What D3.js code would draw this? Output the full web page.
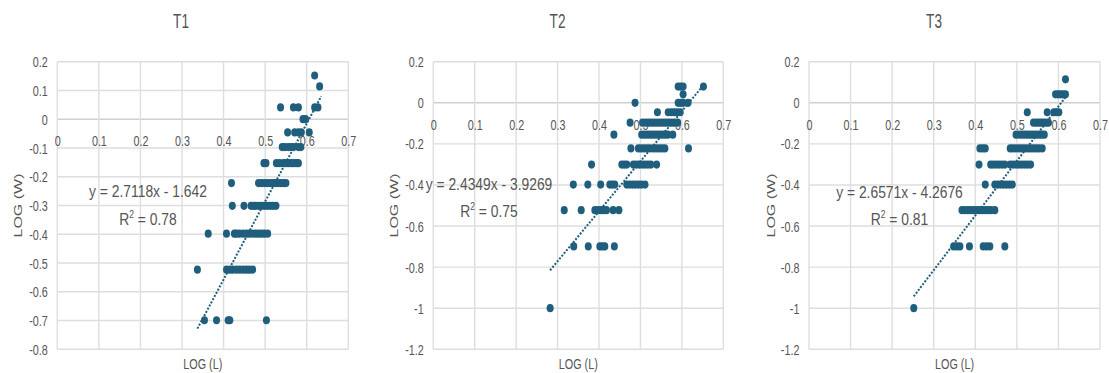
<!DOCTYPE html>
<html>
<head>
<meta charset="utf-8">
<script src="https://cdn.jsdelivr.net/npm/d3@7"></script>
<style>
  html, body { margin: 0; padding: 0; background: #ffffff; }
  svg { display: block; }
  text { font-family: "Liberation Sans", Arial, sans-serif; fill: #555555; }
</style>
</head>
<body>
<svg id="chart" width="1109" height="373"></svg>
<script>
// ---------------- DATA ----------------
const panelTitles = ["T1", "T2", "T3"];
const xTitle = "LOG (L)";
const yTitle = "LOG (W)";

const xTicks = [0, 0.1, 0.2, 0.3, 0.4, 0.5, 0.6, 0.7];
const t1YTicks = [0.2, 0.1, 0, -0.1, -0.2, -0.3, -0.4, -0.5, -0.6, -0.7, -0.8];
const t23YTicks = [0.2, 0, -0.2, -0.4, -0.6, -0.8, -1, -1.2];

// rows: [LOG(W), [LOG(L) values]]
const t1Rows = [
  [0.152, [0.619]],
  [0.114, [0.631]],
  [0.041, [0.537, 0.568, 0.580, 0.619, 0.627]],
  [0, [0.591, 0.597]],
  [-0.046, [0.554, 0.571, 0.580, 0.587, 0.606]],
  [-0.097, [0.541, 0.548, 0.556, 0.563, 0.568, 0.580, 0.586]],
  [-0.153, [0.497, 0.502, 0.527, 0.535, 0.544, 0.550, 0.556, 0.563, 0.568, 0.575, 0.580]],
  [-0.222, [0.419, 0.484, 0.491, 0.498, 0.505, 0.512, 0.519, 0.525, 0.531, 0.538, 0.544, 0.550]],
  [-0.301, [0.421, 0.449, 0.466, 0.472, 0.477, 0.484, 0.491, 0.498, 0.505, 0.512, 0.519, 0.526]],
  [-0.398, [0.363, 0.407, 0.426, 0.431, 0.438, 0.447, 0.455, 0.462, 0.470, 0.477, 0.484, 0.491, 0.498, 0.506]],
  [-0.523, [0.337, 0.407, 0.415, 0.422, 0.431, 0.439, 0.447, 0.455, 0.462, 0.470]],
  [-0.699, [0.354, 0.383, 0.411, 0.415, 0.503]]
];
const t2Rows = [
  [0.079, [0.591, 0.597, 0.603, 0.652]],
  [0.041, [0.603]],
  [0, [0.487, 0.591, 0.597, 0.603, 0.615]],
  [-0.046, [0.541, 0.567, 0.575, 0.582, 0.589, 0.596]],
  [-0.097, [0.475, 0.505, 0.512, 0.519, 0.526, 0.533, 0.540, 0.547, 0.554, 0.561, 0.568, 0.575, 0.582, 0.590]],
  [-0.155, [0.436, 0.503, 0.510, 0.517, 0.524, 0.531, 0.538, 0.545, 0.552, 0.559, 0.566, 0.578]],
  [-0.222, [0.477, 0.495, 0.502, 0.509, 0.516, 0.523, 0.531, 0.538, 0.545, 0.552, 0.559, 0.616]],
  [-0.301, [0.382, 0.455, 0.461, 0.467, 0.483, 0.490, 0.497, 0.504, 0.511, 0.518, 0.525, 0.539]],
  [-0.398, [0.338, 0.373, 0.404, 0.426, 0.432, 0.438, 0.467, 0.474, 0.481, 0.488, 0.495, 0.502, 0.511]],
  [-0.523, [0.316, 0.357, 0.390, 0.397, 0.404, 0.411, 0.418, 0.434, 0.448]],
  [-0.699, [0.339, 0.374, 0.402, 0.408, 0.414, 0.437]],
  [-1, [0.282]]
];
const t3Rows = [
  [0.114, [0.617]],
  [0.041, [0.593, 0.599, 0.605, 0.611, 0.617]],
  [-0.046, [0.525, 0.573, 0.589, 0.595, 0.601]],
  [-0.097, [0.540, 0.546, 0.552, 0.558, 0.564, 0.570, 0.576]],
  [-0.155, [0.498, 0.505, 0.512, 0.519, 0.526, 0.533, 0.540, 0.547, 0.554, 0.560, 0.566]],
  [-0.222, [0.411, 0.418, 0.424, 0.484, 0.491, 0.498, 0.505, 0.512, 0.519, 0.526, 0.533, 0.540, 0.547, 0.553, 0.561]],
  [-0.301, [0.409, 0.437, 0.443, 0.450, 0.457, 0.464, 0.471, 0.484, 0.491, 0.498, 0.505, 0.512, 0.519, 0.526, 0.533]],
  [-0.398, [0.424, 0.447, 0.454, 0.461, 0.468, 0.475, 0.482, 0.489]],
  [-0.523, [0.368, 0.375, 0.382, 0.389, 0.396, 0.403, 0.410, 0.417, 0.424, 0.431, 0.438, 0.447]],
  [-0.699, [0.348, 0.356, 0.363, 0.386, 0.419, 0.427, 0.435, 0.471]],
  [-1, [0.252]]
];

// trendlines as drawn: [slope, intercept, xStart, xEnd]
const t1Trend = [2.7118, -1.642, 0.337, 0.635];
const t2Trend = [2.4349, -1.502, 0.282, 0.652];
const t3Trend = [2.6571, -1.612, 0.252, 0.617];

const equations = ["y = 2.7118x - 1.642", "y = 2.4349x - 3.9269", "y = 2.6571x - 4.2676"];
const r2Values = ["0.78", "0.75", "0.81"];

// ---------------- LAYOUT ----------------
const markColor = "#1f5e7c";
const gridColor = "#dedede";
const panels = [
  { rows: t1Rows, trend: t1Trend, yTicks: t1YTicks, yDomain: [-0.8, 0.2],
    left: 57.3, right: 348.3, titleX: 181, yTitleX: 21.5,
    eqX: 148, eqY: 196.7, r2Y: 225 },
  { rows: t2Rows, trend: t2Trend, yTicks: t23YTicks, yDomain: [-1.2, 0.2],
    left: 433.3, right: 723.3, titleX: 557.5, yTitleX: 398,
    eqX: 489, eqY: 190, r2Y: 216.7 },
  { rows: t3Rows, trend: t3Trend, yTicks: t23YTicks, yDomain: [-1.2, 0.2],
    left: 809, right: 1100, titleX: 934, yTitleX: 775,
    eqX: 899.5, eqY: 198, r2Y: 225 }
];
const plotTop = 61.7, plotBottom = 349.3;

const svg = d3.select("#chart");
const fmt = d => String(+d.toFixed(2));

panels.forEach((p, i) => {
  const g = svg.append("g");
  const x = d3.scaleLinear().domain([0, 0.7]).range([p.left, p.right]);
  const y = d3.scaleLinear().domain(p.yDomain).range([plotBottom, plotTop]);

  // gridlines
  g.append("g").selectAll("line").data(p.yTicks).join("line")
    .attr("x1", p.left).attr("x2", p.right)
    .attr("y1", d => y(d)).attr("y2", d => y(d))
    .attr("stroke", d => d === 0 ? "#d0d0d0" : gridColor).attr("stroke-width", 1.4);
  g.append("g").selectAll("line").data(xTicks).join("line")
    .attr("x1", d => x(d)).attr("x2", d => x(d))
    .attr("y1", plotTop).attr("y2", plotBottom)
    .attr("stroke", gridColor).attr("stroke-width", 1.4);

  // y axis labels
  g.append("g").attr("transform", `translate(${p.left},0)`)
    .call(d3.axisLeft(y).tickValues(p.yTicks).tickSize(0).tickFormat(fmt))
    .call(a => a.select(".domain").remove())
    .call(a => a.selectAll("text")
      .attr("x", null).attr("dy", "0.36em")
      .attr("transform", "translate(-9.6,0) scale(0.77,1)")
      .attr("text-anchor", "end")
      .style("font-size", "14px").style("fill", "#555555")
      .style("font-family", '"Liberation Sans", Arial, sans-serif'));

  // x axis labels (axis crosses at y = 0)
  g.append("g").attr("transform", `translate(0,${y(0)})`)
    .call(d3.axisBottom(x).tickValues(xTicks).tickSize(0).tickFormat(fmt))
    .call(a => a.select(".domain").remove())
    .call(a => a.selectAll("text")
      .attr("y", null).attr("dy", null)
      .attr("transform", "translate(0,27.2) scale(0.77,1)")
      .attr("text-anchor", "middle")
      .style("font-size", "14px").style("fill", "#555555")
      .style("font-family", '"Liberation Sans", Arial, sans-serif'));

  // points
  const pts = p.rows.flatMap(([wy, xs]) => xs.map(lx => [lx, wy]));
  g.append("g").selectAll("ellipse").data(pts).join("ellipse")
    .attr("cx", d => x(d[0])).attr("cy", d => y(d[1]))
    .attr("rx", 3.5).attr("ry", 4.1)
    .attr("fill", markColor);

  // trendline
  const [m, b, x0, x1] = p.trend;
  g.append("line")
    .attr("x1", x(x0)).attr("y1", y(m * x0 + b))
    .attr("x2", x(x1)).attr("y2", y(m * x1 + b))
    .attr("stroke", markColor).attr("stroke-width", 2)
    .attr("stroke-dasharray", "2 1.6");

  // title
  g.append("text").text(panelTitles[i])
    .attr("text-anchor", "middle")
    .attr("transform", `translate(${p.titleX},27.5) scale(0.68,1)`)
    .style("font-size", "20px");

  // axis titles
  g.append("text").text(xTitle)
    .attr("text-anchor", "middle")
    .attr("transform", `translate(${(p.left + p.right) / 2},369) scale(0.72,1)`)
    .style("font-size", "15px");
  g.append("text").text(yTitle)
    .attr("text-anchor", "middle")
    .attr("transform", `translate(${p.yTitleX},${(plotTop + plotBottom) / 2}) scale(0.72,1) rotate(-90)`)
    .style("font-size", "16px");

  // equation + R²
  g.append("text").text(equations[i])
    .attr("text-anchor", "middle")
    .attr("transform", `translate(${p.eqX},${p.eqY}) scale(0.85,1)`)
    .style("font-size", "16.3px");
  const r = g.append("text")
    .attr("text-anchor", "middle")
    .attr("transform", `translate(${p.eqX},${p.r2Y}) scale(0.85,1)`)
    .style("font-size", "16.3px");
  r.append("tspan").text("R");
  r.append("tspan").text("2").attr("dy", "-7").style("font-size", "10px");
  r.append("tspan").text(" = " + r2Values[i]).attr("dy", "7");
});
</script>
</body>
</html>
